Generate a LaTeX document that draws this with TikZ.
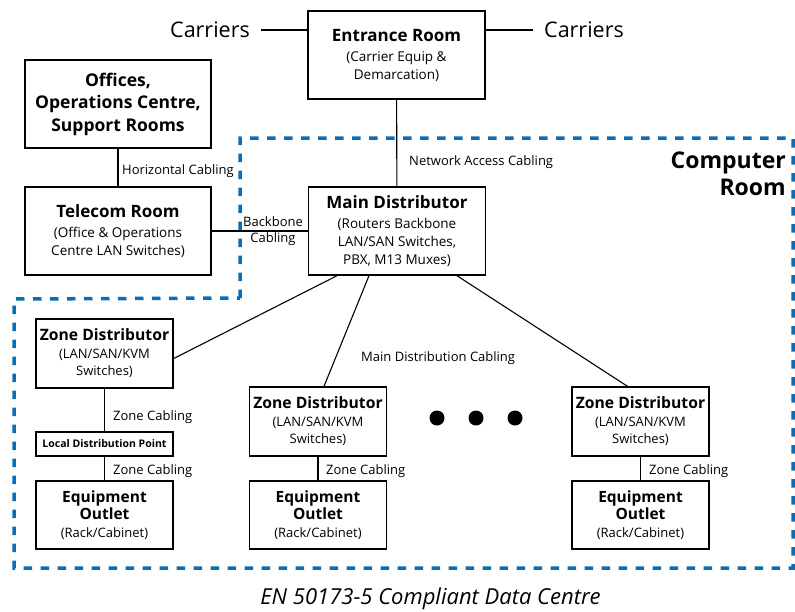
\documentclass[tikz,border=0pt]{standalone}
\usepackage{fontspec}
\setmainfont{Open Sans}
\usetikzlibrary{positioning,calc}
\definecolor{roomblue}{HTML}{0A6DB5}
\newcommand{\ttl}[2][17]{{\fontsize{#1}{20}\selectfont\bfseries #2}}

\begin{document}
\begin{tikzpicture}[x=1pt,y=-1pt,
  box/.style={draw,line width=1.4pt,align=center,inner sep=0pt,
    minimum width=137,font=\fontsize{13}{17}\selectfont},
  bigbox/.style={box,minimum width=177,minimum height=88,font=\fontsize{13.5}{18}\selectfont},
  wire/.style={line width=1.1pt},
  cabling/.style={font=\fontsize{13}{16}\selectfont,inner sep=0pt},
  carrier/.style={font=\fontsize{21.5}{26}\selectfont,inner xsep=11pt,inner ysep=0pt}]
\useasboundingbox (0,0) rectangle (795,611);
% computer room boundary
\draw[roomblue,line width=3.5pt,dash pattern=on 8.5pt off 8.5pt]
  (240,298) -- (240,138) -- (793,138) -- (793,568) -- (14,568) -- (14,299) -- cycle;
\node[anchor=north east,align=right,inner sep=0pt,font=\fontsize{23}{27}\selectfont\bfseries] (crlabel) at (786,152) {Computer\\Room};
% rooms outside
\node[bigbox] (er) at (396.5,55) {\ttl{Entrance Room}\\[2pt](Carrier Equip \&\\Demarcation)};
\node[bigbox,minimum width=186,font=\fontsize{17.5}{22.5}\selectfont\bfseries] (of) at (118,104) {Offices,\\Operations Centre,\\Support Rooms};
\node[bigbox,minimum width=186] (tr) at (118,231) {\ttl{Telecom Room}\\[2pt](Office \& Operations\\Centre LAN Switches)};
\node[bigbox] (md) at (397,231) {\ttl{Main Distributor}\\[2pt](Routers Backbone\\LAN/SAN Switches,\\PBX, M13 Muxes)};
% carriers
\node[carrier,anchor=east] (carl) at (261,30) {Carriers};
\node[carrier,anchor=west] (carr) at (533,30) {Carriers};
\draw[wire] (carl.east) -- (carl.east -| er.west);
\draw[wire] (carr.west) -- (carr.west -| er.east);
% zone distributors and outlets
\node[box,minimum height=69] (zd1) at (104.5,353.5) {\ttl[15.7]{Zone Distributor}\\[1pt](LAN/SAN/KVM\\Switches)};
\node[box,minimum height=24,font=\fontsize{10.5}{12}\selectfont\bfseries] (ldp) at (104.5,444) {Local Distribution Point};
\node[box,minimum height=68] (eo1) at (104.5,515) {\ttl[15.5]{Equipment}\\\ttl[15.5]{Outlet}\\[1pt](Rack/Cabinet)};
\node[box,minimum height=69] (zd2) at (318,421.5) {\ttl[15.7]{Zone Distributor}\\[1pt](LAN/SAN/KVM\\Switches)};
\node[box,minimum height=68] (eo2) at (318,515) {\ttl[15.5]{Equipment}\\\ttl[15.5]{Outlet}\\[1pt](Rack/Cabinet)};
\node[box,minimum height=69] (zd3) at (640.5,421.5) {\ttl[15.7]{Zone Distributor}\\[1pt](LAN/SAN/KVM\\Switches)};
\node[box,minimum height=68] (eo3) at (640.5,515) {\ttl[15.5]{Equipment}\\\ttl[15.5]{Outlet}\\[1pt](Rack/Cabinet)};
\foreach \dx in {437,476,515}
  \fill (\dx,418) circle (7.5pt);
% cabling
\draw[wire] (of) -- (tr);
\draw[wire] (er) -- (md);
\draw[wire] (tr) -- (md);
\draw[wire] ([xshift=-60]md.south) -- ([yshift=-5]zd1.east);
\draw[wire] ([xshift=-28]md.south) -- ([xshift=6]zd2.north);
\draw[wire] ([xshift=60]md.south) -- ([xshift=-13]zd3.north);
\draw[wire] (zd1) -- (ldp);
\draw[wire] (ldp) -- (eo1);
\draw[wire] (zd2) -- (eo2);
\draw[wire] (zd3) -- (eo3);
\node[cabling,anchor=west] (hc) at (122,171) {Horizontal Cabling};
\node[cabling,anchor=west] (nac) at (409,162) {Network Access Cabling};
\node[cabling,align=center,font=\fontsize{13}{16.5}\selectfont] (bc) at (273,231) {Backbone\\Cabling};
\node[cabling,anchor=west] (mdc) at (361,358) {Main Distribution Cabling};
\node[cabling,anchor=west] (zc1) at (113,417) {Zone Cabling};
\node[cabling,anchor=west] (zc2) at (113,471) {Zone Cabling};
\node[cabling,anchor=west] (zc3) at (326,471) {Zone Cabling};
\node[cabling,anchor=west] (zc4) at (649,471) {Zone Cabling};
% caption
\node[font=\fontsize{22}{26}\selectfont\itshape] (cap) at (430.5,599) {EN 50173-5 Compliant Data Centre};
\end{tikzpicture}
\end{document}
